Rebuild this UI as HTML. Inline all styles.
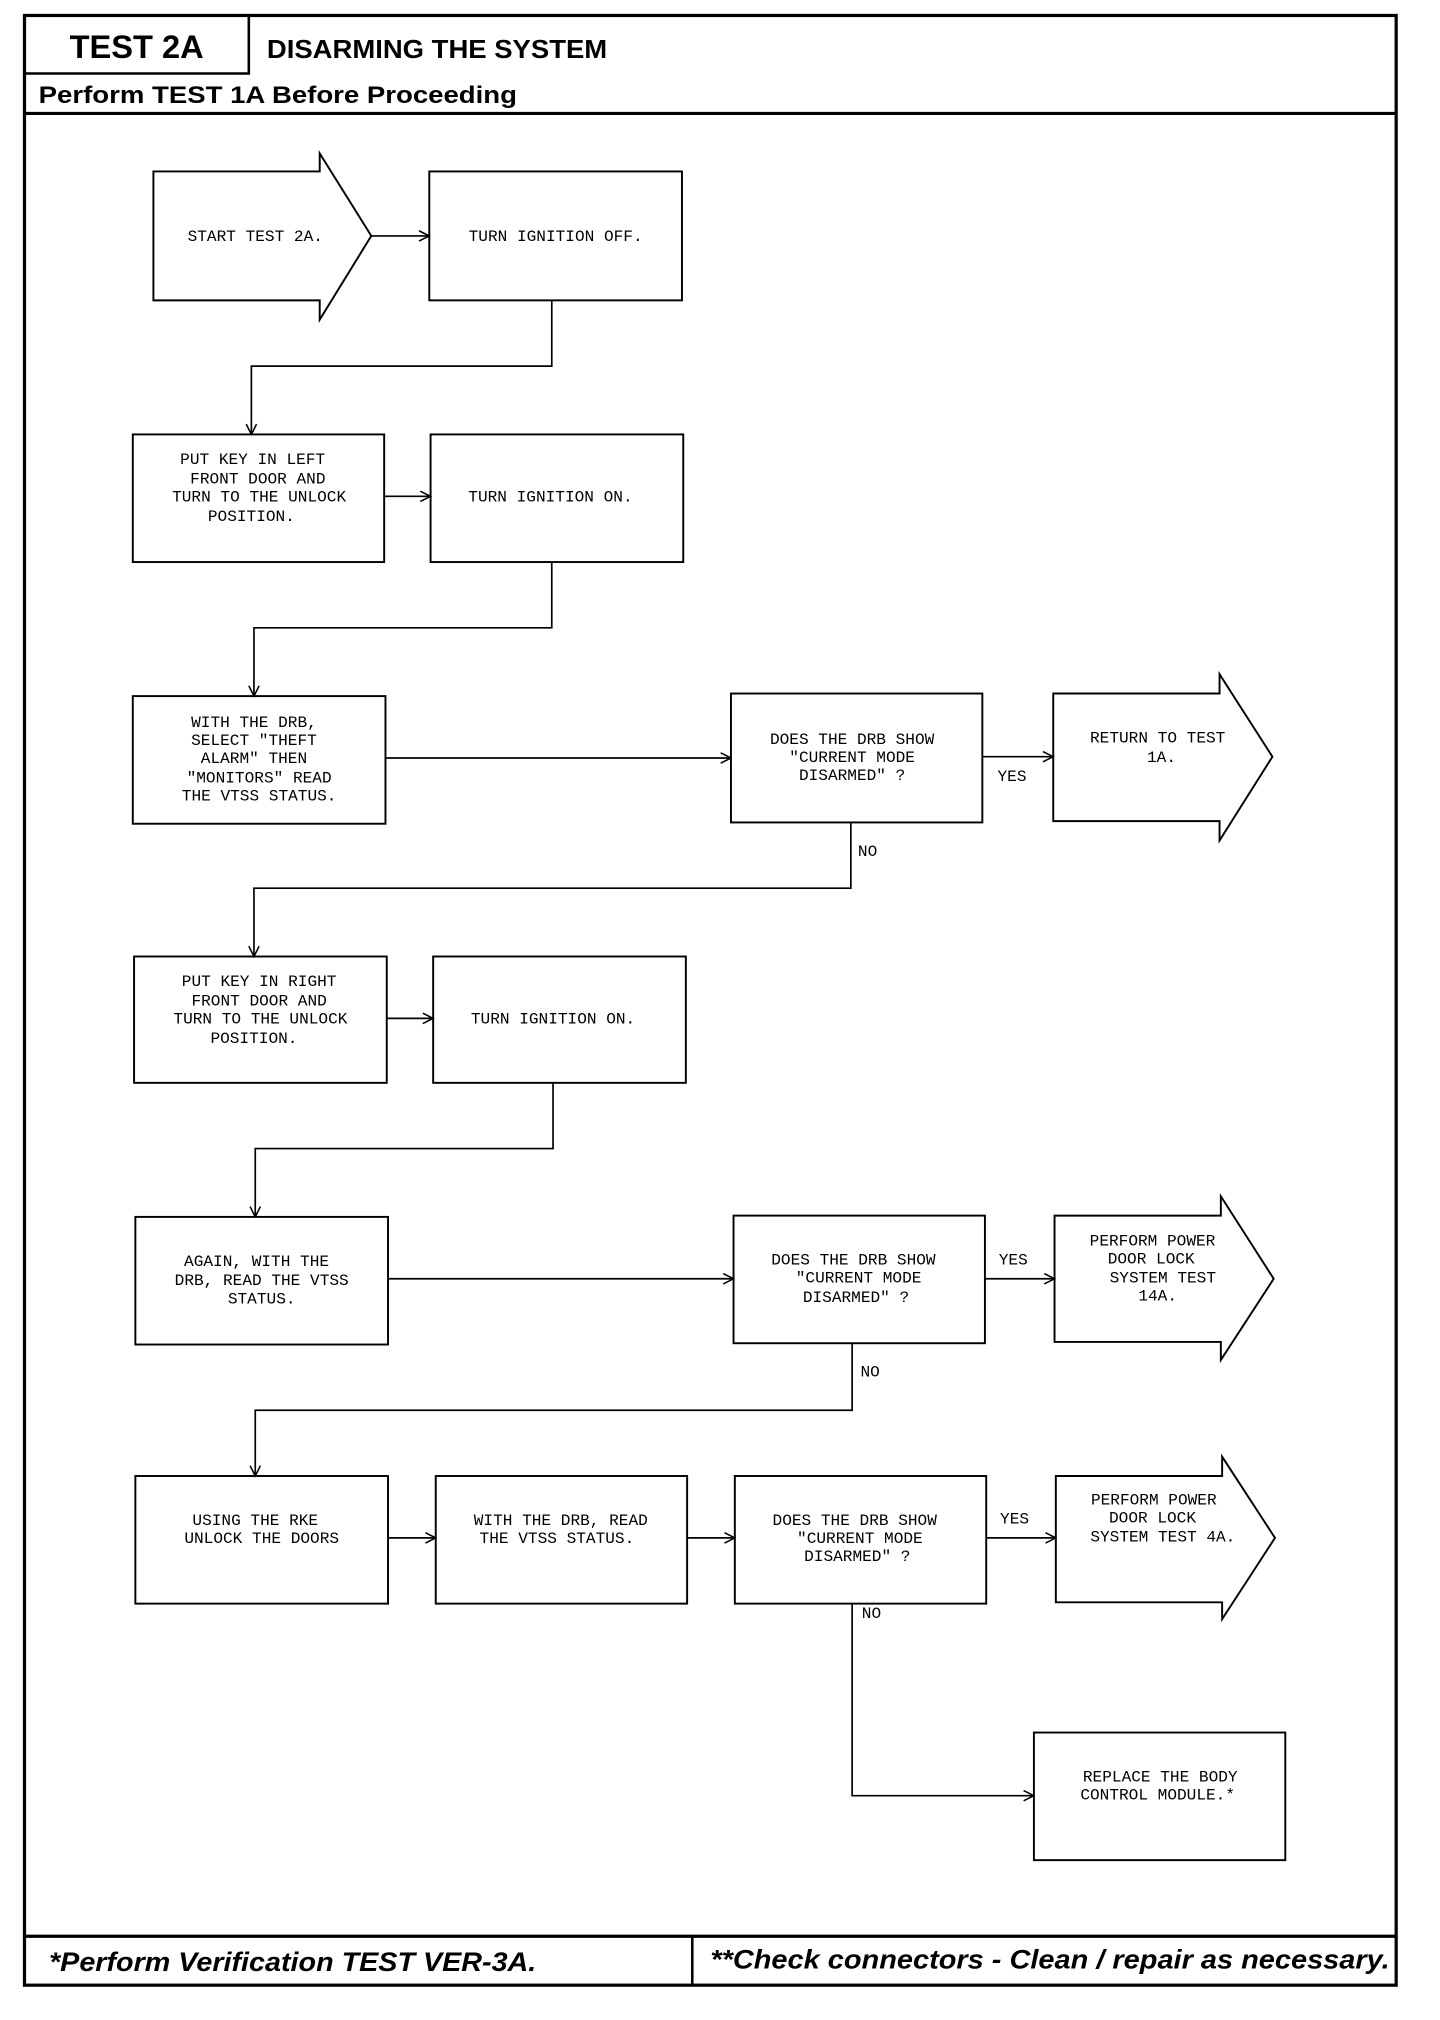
<!DOCTYPE html>
<html><head><meta charset="utf-8"><style>
html,body{margin:0;padding:0;background:#fff}
svg{display:block}
.t{font-family:"Liberation Mono",monospace;font-size:12.5px;fill:#000;text-anchor:middle}
.h{font-family:"Liberation Sans",sans-serif;font-weight:bold;fill:#000}
</style></head><body>
<svg width="1440" height="2020" viewBox="0 0 1117 1567" preserveAspectRatio="none" xmlns="http://www.w3.org/2000/svg">
<defs><marker id="a" markerWidth="10" markerHeight="10" refX="9" refY="5" orient="auto" markerUnits="userSpaceOnUse"><path d="M1,1 L9,5 L1,9" fill="none" stroke="#000" stroke-width="1.2"/></marker></defs>
<g fill="none" stroke="#000">
<rect x="19" y="12" width="1064" height="1528" stroke-width="2.5"/>
<line x1="19" y1="88" x2="1083" y2="88" stroke-width="2.5"/>
<line x1="19" y1="1502" x2="1083" y2="1502" stroke-width="2.5"/>
<line x1="537" y1="1502" x2="537" y2="1540" stroke-width="2"/>
<polyline points="19,57 193,57 193,12" stroke-width="2"/>
</g>
<text class="h" x="106" y="45" font-size="25" text-anchor="middle" textLength="104" lengthAdjust="spacingAndGlyphs">TEST 2A</text>
<text class="h" x="207" y="45" font-size="20" textLength="264" lengthAdjust="spacingAndGlyphs">DISARMING THE SYSTEM</text>
<text class="h" x="30" y="80" font-size="19" textLength="371" lengthAdjust="spacingAndGlyphs">Perform TEST 1A Before Proceeding</text>
<text class="h" x="38" y="1529" font-size="21" font-style="italic" textLength="378" lengthAdjust="spacingAndGlyphs">*Perform Verification TEST VER-3A.</text>
<text class="h" x="551" y="1527" font-size="21" font-style="italic" textLength="527" lengthAdjust="spacingAndGlyphs">**Check connectors - Clean / repair as necessary.</text>

<g fill="#fff" stroke="#000" stroke-width="1.5">
<path d="M119,133 H248 V119 L288,183 L248,248 V233 H119 Z"/>
<rect x="333" y="133" width="196" height="100"/>
<rect x="103" y="337" width="195" height="99"/>
<rect x="334" y="337" width="196" height="99"/>
<rect x="103" y="540" width="196" height="99"/>
<rect x="567" y="538" width="195" height="100"/>
<path d="M817,538 H946 V523 L987,587 L946,652 V637 H817 Z"/>
<rect x="104" y="742" width="196" height="98"/>
<rect x="336" y="742" width="196" height="98"/>
<rect x="105" y="944" width="196" height="99"/>
<rect x="569" y="943" width="195" height="99"/>
<path d="M818,943 H947 V928 L988,992 L947,1055 V1041 H818 Z"/>
<rect x="105" y="1145" width="196" height="99"/>
<rect x="338" y="1145" width="195" height="99"/>
<rect x="570" y="1145" width="195" height="99"/>
<path d="M819,1145 H948 V1130 L989,1193 L948,1256 V1243 H819 Z"/>
<rect x="802" y="1344" width="195" height="99"/>
</g>

<g fill="none" stroke="#000" stroke-width="1.3" marker-end="url(#a)">
<line x1="288" y1="183" x2="333" y2="183"/>
<polyline points="428,233 428,284 195,284 195,337"/>
<line x1="298" y1="385" x2="334" y2="385"/>
<polyline points="428,436 428,487 197,487 197,540"/>
<line x1="299" y1="588" x2="567" y2="588"/>
<line x1="762" y1="587" x2="817" y2="587"/>
<polyline points="660,638 660,689 197,689 197,742"/>
<line x1="300" y1="790" x2="336" y2="790"/>
<polyline points="429,840 429,891 198,891 198,944"/>
<line x1="301" y1="992" x2="569" y2="992"/>
<line x1="764" y1="992" x2="818" y2="992"/>
<polyline points="661,1042 661,1094 198,1094 198,1145"/>
<line x1="301" y1="1193" x2="338" y2="1193"/>
<line x1="533" y1="1193" x2="570" y2="1193"/>
<line x1="765" y1="1193" x2="819" y2="1193"/>
<polyline points="661,1244 661,1393 802,1393"/>
</g>

<text class="t" x="198" y="187">START TEST 2A.</text>
<text class="t" x="431" y="187">TURN IGNITION OFF.</text>
<text class="t" x="196" y="360">PUT KEY IN LEFT</text>
<text class="t" x="200" y="375">FRONT DOOR AND</text>
<text class="t" x="201" y="389">TURN TO THE UNLOCK</text>
<text class="t" x="195" y="404">POSITION.</text>
<text class="t" x="427" y="389">TURN IGNITION ON.</text>
<text class="t" x="197" y="564">WITH THE DRB,</text>
<text class="t" x="197" y="578">SELECT "THEFT</text>
<text class="t" x="197" y="592">ALARM" THEN</text>
<text class="t" x="201" y="607">"MONITORS" READ</text>
<text class="t" x="201" y="621">THE VTSS STATUS.</text>
<text class="t" x="661" y="577">DOES THE DRB SHOW</text>
<text class="t" x="661" y="591">"CURRENT MODE</text>
<text class="t" x="661" y="605">DISARMED" ?</text>
<text class="t" x="785" y="606">YES</text>
<text class="t" x="898" y="576">RETURN TO TEST</text>
<text class="t" x="901" y="591">1A.</text>
<text class="t" x="673" y="664">NO</text>
<text class="t" x="201" y="765">PUT KEY IN RIGHT</text>
<text class="t" x="201" y="780">FRONT DOOR AND</text>
<text class="t" x="202" y="794">TURN TO THE UNLOCK</text>
<text class="t" x="197" y="809">POSITION.</text>
<text class="t" x="429" y="794">TURN IGNITION ON.</text>
<text class="t" x="199" y="982">AGAIN, WITH THE</text>
<text class="t" x="203" y="997">DRB, READ THE VTSS</text>
<text class="t" x="203" y="1011">STATUS.</text>
<text class="t" x="662" y="981">DOES THE DRB SHOW</text>
<text class="t" x="666" y="995">"CURRENT MODE</text>
<text class="t" x="664" y="1010">DISARMED" ?</text>
<text class="t" x="786" y="981">YES</text>
<text class="t" x="894" y="966">PERFORM POWER</text>
<text class="t" x="893" y="980">DOOR LOCK</text>
<text class="t" x="902" y="995">SYSTEM TEST</text>
<text class="t" x="898" y="1009">14A.</text>
<text class="t" x="675" y="1068">NO</text>
<text class="t" x="198" y="1183">USING THE RKE</text>
<text class="t" x="203" y="1197">UNLOCK THE DOORS</text>
<text class="t" x="435" y="1183">WITH THE DRB, READ</text>
<text class="t" x="432" y="1197">THE VTSS STATUS.</text>
<text class="t" x="663" y="1183">DOES THE DRB SHOW</text>
<text class="t" x="667" y="1197">"CURRENT MODE</text>
<text class="t" x="665" y="1211">DISARMED" ?</text>
<text class="t" x="787" y="1182">YES</text>
<text class="t" x="895" y="1167">PERFORM POWER</text>
<text class="t" x="894" y="1181">DOOR LOCK</text>
<text class="t" x="902" y="1196">SYSTEM TEST 4A.</text>
<text class="t" x="676" y="1255">NO</text>
<text class="t" x="900" y="1382">REPLACE THE BODY</text>
<text class="t" x="898" y="1396">CONTROL MODULE.*</text>
</svg>
</body></html>
